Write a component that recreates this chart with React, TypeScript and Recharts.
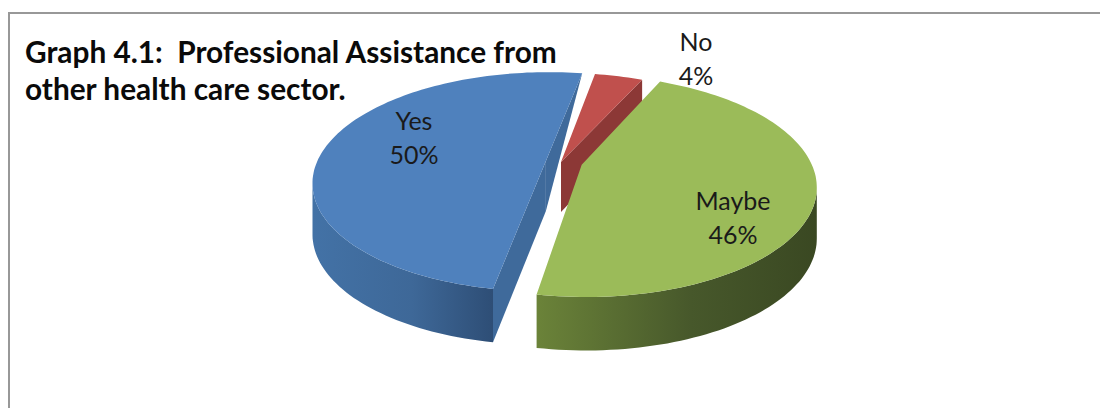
import React from "react";
import { PieChart, Pie, Cell } from "recharts";

// Survey answers, in drawing order (clockwise from the lower front of the pie).
const answers = ["Yes", "No", "Maybe"];
const shares = [50, 4, 46];

const topColours = ["#4f81bd", "#c0504d", "#9bbb59"];
const cutColours = ["#3f6a9b", "#8c3836", "#6b8339"];
const rimStops = [
  ["#4372a6", "#3e6898", "#2e4e76"],
  ["#8c3836", "#8c3836", "#8c3836"],
  ["#6b8339", "#47582b", "#3a4822"],
];

// Per-slice displacement on the pie's floor plane, as a fraction of the radius.
const explode = [
  { du: -0.079, dv: -0.01 },
  { du: -0.013, dv: 0 },
  { du: 0.077, dv: 0.025 },
];

// Where each label's first line sits, relative to the pie centre.
const labelShift = [
  { dx: -150, dy: -32 },
  { dx: 132, dy: -111 },
  { dx: 169, dy: 48 },
];

const rows = answers.map((name, i) => ({ name, value: shares[i] }));

const PERSPECTIVE = 0.19;
const TILT = 0.463;
const RAD = Math.PI / 180;
// Beyond this point on the floor plane the outer wall turns behind the top surface.
const WALL_HORIZON = 0.2;

type Pt = { x: number; y: number };

function project(cx: number, cy: number, r: number, i: number, u: number, v: number): Pt {
  const U = u + explode[i].du;
  const V = v + explode[i].dv;
  const w = 1 - PERSPECTIVE * V;
  return { x: cx + (r * U) / w, y: cy + (r * TILT * V) / w };
}

const depth = (v: number) => 50 + 3.5 * v;
const below = (p: Pt, v: number): Pt => ({ x: p.x, y: p.y + depth(v) });
const toPath = (pts: Pt[]) =>
  pts.map((p, i) => `${i ? "L" : "M"}${p.x.toFixed(1)} ${p.y.toFixed(1)}`).join("") + "Z";

// One extruded slice: front rim, visible cut faces, then the top surface.
function Slice3D(props: any) {
  const { cx, cy, outerRadius: r, startAngle, endAngle, index: rawIndex, name } = props;
  const i = typeof rawIndex === "number" ? rawIndex : answers.indexOf(name);
  const steps = Math.max(4, Math.ceil(Math.abs(endAngle - startAngle) / 1.5));
  const angles = Array.from({ length: steps + 1 }, (_, s) => startAngle + ((endAngle - startAngle) * s) / steps);
  const disc = angles.map((a) => ({ u: Math.cos(a * RAD), v: -Math.sin(a * RAD) }));
  const rim = disc.map((d) => project(cx, cy, r, i, d.u, d.v));
  const apex = project(cx, cy, r, i, 0, 0);
  const apexLow = below(apex, 0);

  const front = disc.map((d, k) => ({ d, p: rim[k] })).filter((e) => e.d.v >= WALL_HORIZON);
  const strip = front.length
    ? [...front.map((e) => e.p), ...front.map((e) => below(e.p, e.d.v)).reverse()]
    : [];

  const first = rim[0];
  const last = rim[rim.length - 1];
  const firstV = disc[0].v;
  const lastV = disc[disc.length - 1].v;

  const faces: Pt[][] = [];
  if (i === 0) {
    faces.push([apex, apexLow, below(first, firstV), first]);
    faces.push([apex, apexLow, last]);
  }
  if (i === 1) {
    faces.push([apex, apexLow, below(last, lastV), last]);
  }

  const gradient = `rim-${i}`;
  return (
    <g>
      <defs>
        <linearGradient id={gradient} x1="0" y1="0" x2="1" y2="0">
          <stop offset="0" stopColor={rimStops[i][0]} />
          <stop offset="0.55" stopColor={rimStops[i][1]} />
          <stop offset="1" stopColor={rimStops[i][2]} />
        </linearGradient>
      </defs>
      {strip.length > 0 && <path d={toPath(strip)} fill={`url(#${gradient})`} />}
      {faces.map((f, k) => (
        <path key={k} d={toPath(f)} fill={cutColours[i]} />
      ))}
      <path d={toPath([apex, ...rim])} fill={topColours[i]} />
    </g>
  );
}

function SliceLabel(props: any) {
  const { cx, cy, index, name, value } = props;
  const s = labelShift[index];
  const x = cx + s.dx;
  const y = cy + s.dy;
  return (
    <text x={x} y={y} textAnchor="middle" fontFamily="Lato, sans-serif" fontSize={25} fill="#1a1a1a">
      <tspan x={x} dy={0}>{name}</tspan>
      <tspan x={x} dy={34}>{`${value}%`}</tspan>
    </text>
  );
}

export default function App() {
  return (
    <div style={{ position: "absolute", left: 0, top: 0, width: 1100, height: 408, overflow: "hidden", background: "#fff" }}>
      <div
        style={{
          position: "absolute",
          left: 8,
          top: 12,
          width: 1100,
          height: 400,
          borderLeft: "2px solid #989898",
          borderTop: "2px solid #989898",
        }}
      />
      <PieChart width={1100} height={408} margin={{ top: 0, right: 0, bottom: 0, left: 0 }} style={{ position: "absolute", left: 0, top: 0 }}>
        <Pie
          data={rows}
          dataKey="value"
          nameKey="name"
          cx={564}
          cy={162}
          innerRadius={0}
          outerRadius={229}
          startAngle={-100}
          endAngle={-460}
          stroke="none"
          isAnimationActive={false}
          labelLine={false}
          label={SliceLabel}
          shape={Slice3D}
          rootTabIndex={-1}
        >
          {rows.map((r, i) => (
            <Cell key={r.name} fill={topColours[i]} />
          ))}
        </Pie>
      </PieChart>
      <div
        style={{
          position: "absolute",
          left: 25,
          top: 33,
          fontFamily: "Lato, sans-serif",
          fontWeight: 700,
          fontSize: 29.8,
          lineHeight: "37px",
          color: "#0a0a0a",
          whiteSpace: "pre",
        }}
      >
        {"Graph 4.1:  Professional Assistance from\nother health care sector."}
      </div>
    </div>
  );
}
